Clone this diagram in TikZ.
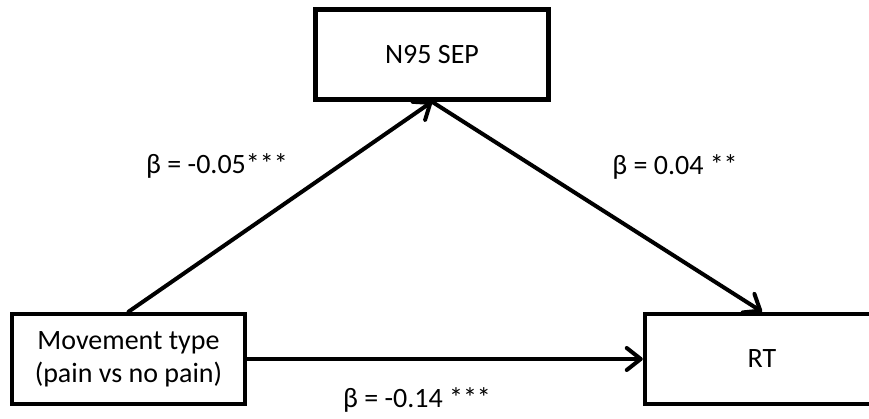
\documentclass[tikz,border=0pt]{standalone}
\usepackage{fontspec}
\setmainfont{Carlito}
\usetikzlibrary{arrows.meta}
\begin{document}
\begin{tikzpicture}[x=1pt,y=-1pt,
  varbox/.style={draw=black,line width=4.5pt,fill=white,inner sep=0pt,
    minimum width=233pt,minimum height=90pt,align=center,
    font=\fontsize{28}{33}\selectfont},
  path/.style={line width=4pt,line cap=round,
    -{Straight Barb[length=14pt,width=22pt,line cap=round,line join=round]}},
  coef/.style={font=\fontsize{28}{33}\selectfont,inner sep=0pt}]
  \useasboundingbox (0,0) rectangle (869,419);
  \begin{scope}
    \clip (0,0) rectangle (869,419);
    % variables
    \node[varbox] (sep) at (432,54.5) {N95 SEP};
    \node[varbox] (mv) at (128.5,359) {Movement type\\(pain vs no pain)};
    \node[varbox,minimum width=234pt] (rt) at (762,359) {RT};
  \end{scope}
  % paths
  \draw[path] (mv.north) -- (sep.south);
  \draw[path] (sep.south) -- (rt.north);
  \draw[path] (mv.east) -- (rt.west);
  % coefficients
  \node[coef] (a) at (217,166) {β = -0.05***};
  \node[coef] (b) at (675,167) {β = 0.04 **};
  \node[coef] (c) at (417,400) {β = -0.14 ***};
\end{tikzpicture}
\end{document}
